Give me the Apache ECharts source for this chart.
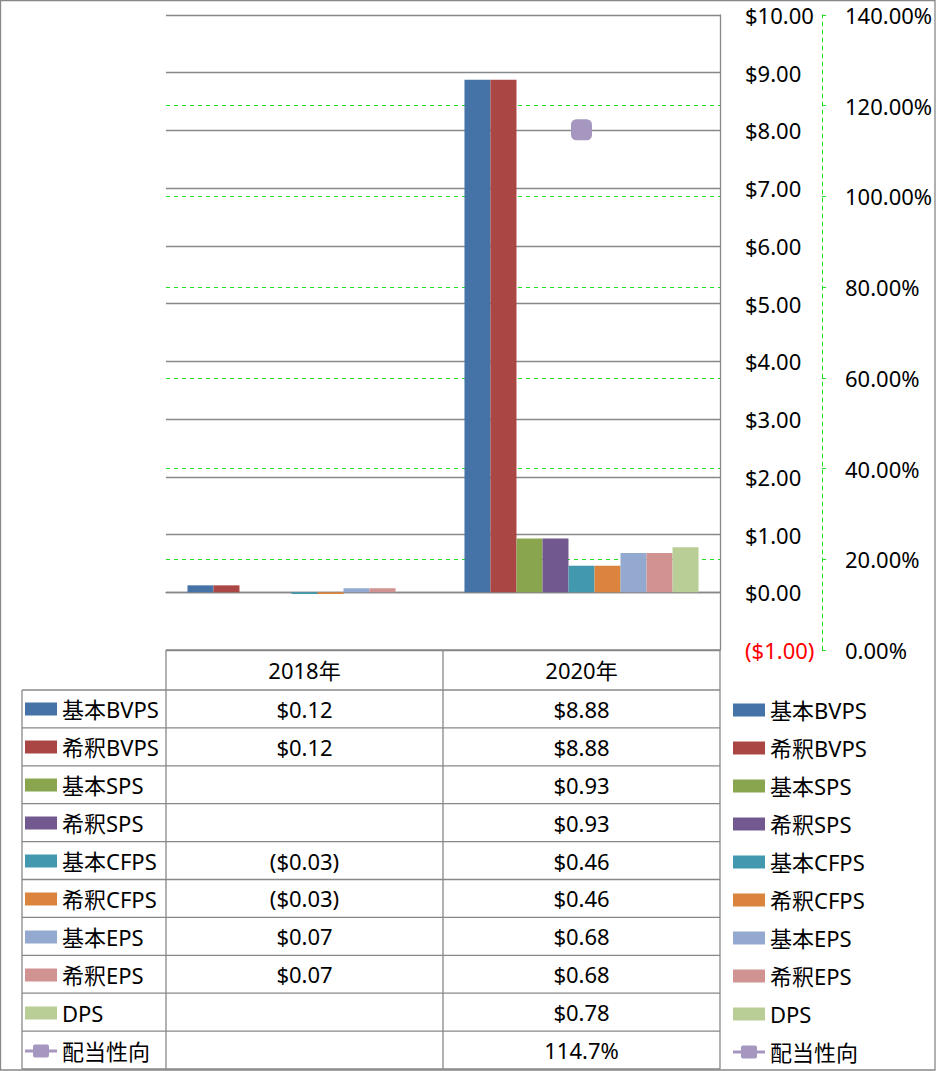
<!DOCTYPE html>
<html>
<head>
<meta charset="utf-8">
<script src="https://cdn.jsdelivr.net/npm/echarts@6/dist/echarts.min.js"></script>
<style>
html,body{margin:0;padding:0;background:#fff;}
#main{width:936px;height:1071px;}
</style>
</head>
<body>
<div id="main"></div>
<script>
// ---- data ----
const categories = ['2018年', '2020年'];
const seriesNames = ['基本BVPS', '希釈BVPS', '基本SPS', '希釈SPS', '基本CFPS', '希釈CFPS', '基本EPS', '希釈EPS', 'DPS'];
const basicBVPS = [0.12, 8.88];
const dilutedBVPS = [0.12, 8.88];
const basicSPS = [null, 0.93];
const dilutedSPS = [null, 0.93];
const basicCFPS = [-0.03, 0.46];
const dilutedCFPS = [-0.03, 0.46];
const basicEPS = [0.07, 0.68];
const dilutedEPS = [0.07, 0.68];
const dps = [null, 0.78];
const ratioName = '配当性向';
const payoutRatio = [null, 114.7];
const barValues = [basicBVPS, dilutedBVPS, basicSPS, dilutedSPS, basicCFPS, dilutedCFPS, basicEPS, dilutedEPS, dps];

// ---- style ----
const colors = ['#4572A7', '#AA4643', '#89A54E', '#71588F', '#4198AF', '#DB843D', '#93A9CF', '#D19392', '#B9CD96'];
const ratioColor = '#A597BF';
const FONT = '"Noto Sans", "Noto Sans CJK JP", sans-serif';
const FS = 22;
const GRID_COLOR = '#888888';
const GREEN = '#22dd22';
const ratioIcon = 'path://M0,5h32v3h-32z M10,0h12a2,2 0 0 1 2,2v9a2,2 0 0 1 -2,2h-12a2,2 0 0 1 -2,-2v-9a2,2 0 0 1 2,-2z';

const plotL = 166, plotR = 720, plotT = 15, plotB = 650;
const W = 936, H = 1071;
const tableL = 22, headTop = 650, rowTop = 690, rowH = 37.9;

function money(v) {
  if (v === null || v === undefined) return '';
  return v < 0 ? '($' + Math.abs(v).toFixed(2) + ')' : '$' + v.toFixed(2);
}

const chart = echarts.init(document.getElementById('main'), null, {renderer: 'svg'});

const series = seriesNames.map((n, i) => ({
  name: n,
  type: 'bar',
  data: barValues[i],
  barGap: '0%',
  barCategoryGap: '15.5%',
  itemStyle: {color: colors[i]},
  yAxisIndex: 0
}));
series.push({
  name: ratioName,
  type: 'line',
  yAxisIndex: 1,
  data: payoutRatio,
  symbol: 'roundRect',
  symbolSize: 21,
  itemStyle: {color: ratioColor},
  lineStyle: {color: ratioColor, width: 4},
  z: 5
});

const legendNames = seriesNames.concat([ratioName]);
const legendCommon = {
  orient: 'vertical',
  padding: 0,
  itemWidth: 32,
  itemHeight: 13,
  itemGap: 16,
  height: 380,
  textStyle: {fontFamily: FONT, fontSize: FS, lineHeight: 22, color: '#000'},
  data: legendNames.map(n => n === ratioName ? {name: n, icon: ratioIcon} : {name: n, icon: 'rect'}),
  selectedMode: false
};

const option = {
  animation: false,
  textStyle: {fontFamily: FONT},
  grid: {left: plotL, right: W - plotR, top: plotT, bottom: H - plotB, containLabel: false},
  legend: [
    Object.assign({left: 25, top: 698}, legendCommon),
    Object.assign({left: 733, top: 699}, legendCommon)
  ],
  xAxis: {
    type: 'category',
    data: categories,
    axisLine: {show: true, lineStyle: {color: GRID_COLOR, width: 1.3}},
    axisTick: {show: false},
    axisLabel: {show: false},
    splitLine: {show: false}
  },
  yAxis: [
    {
      type: 'value',
      position: 'right',
      min: -1, max: 10, interval: 1,
      axisLine: {show: true, lineStyle: {color: GRID_COLOR, width: 1.3}},
      axisTick: {show: false},
      axisLabel: {
        margin: 25,
        fontSize: FS,
        fontFamily: FONT,
        formatter: v => money(v),
        color: v => (Number(v) < 0 ? '#ff0000' : '#000000')
      },
      splitLine: {show: true, lineStyle: {color: GRID_COLOR, width: 1.3}}
    },
    {
      type: 'value',
      position: 'right',
      offset: 102,
      min: 0, max: 140, interval: 20,
      axisLine: {show: true, lineStyle: {color: GREEN, width: 1, type: [4, 4]}},
      axisTick: {show: true, length: 8, lineStyle: {color: GREEN, width: 1, type: [4, 4]}},
      axisLabel: {
        margin: 23,
        fontSize: FS,
        fontFamily: FONT,
        color: '#000',
        formatter: v => v.toFixed(2) + '%'
      },
      splitLine: {show: true, showMinLine: false, showMaxLine: false, lineStyle: {color: GREEN, width: 1, type: [4, 4]}}
    }
  ],
  series: series
};

chart.setOption(option);

// ---- data table ----
const xs = categories.map(c => chart.convertToPixel({xAxisIndex: 0}, c));
const colMid = (xs[0] + xs[1]) / 2;
const nRows = legendNames.length;
const tableBottom = rowTop + rowH * nRows;
const lineStyle = {stroke: GRID_COLOR, lineWidth: 1.3};
const g = [];
function hline(x1, x2, y) { g.push({type: 'line', silent: true, shape: {x1, y1: y, x2, y2: y}, style: lineStyle}); }
function vline(x, y1, y2) { g.push({type: 'line', silent: true, shape: {x1: x, y1, x2: x, y2}, style: lineStyle}); }

// outer border
g.push({type: 'rect', silent: true, shape: {x: 0.5, y: 0.5, width: W - 1.5, height: H - 1.5}, style: {fill: 'none', stroke: GRID_COLOR, lineWidth: 1.3}});
hline(plotL, plotR, headTop);
for (let i = 0; i <= nRows; i++) hline(tableL, plotR, rowTop + rowH * i);
vline(tableL, rowTop, tableBottom);
vline(plotL, headTop, tableBottom);
vline(colMid, headTop, tableBottom);
vline(plotR, headTop, tableBottom);

function txt(s, x, y) {
  g.push({type: 'text', silent: true, x: x, y: y, style: {text: s, fontSize: FS, fontFamily: FONT, fill: '#000', align: 'center', verticalAlign: 'middle'}});
}
categories.forEach((c, j) => txt(c, xs[j], (headTop + rowTop) / 2));
barValues.forEach((arr, i) => {
  arr.forEach((v, j) => {
    if (v !== null) txt(money(v), xs[j], rowTop + rowH * (i + 0.5));
  });
});
payoutRatio.forEach((v, j) => {
  if (v !== null) txt(v.toFixed(1) + '%', xs[j], rowTop + rowH * (nRows - 0.5));
});

chart.setOption({graphic: g});
</script>
</body>
</html>
